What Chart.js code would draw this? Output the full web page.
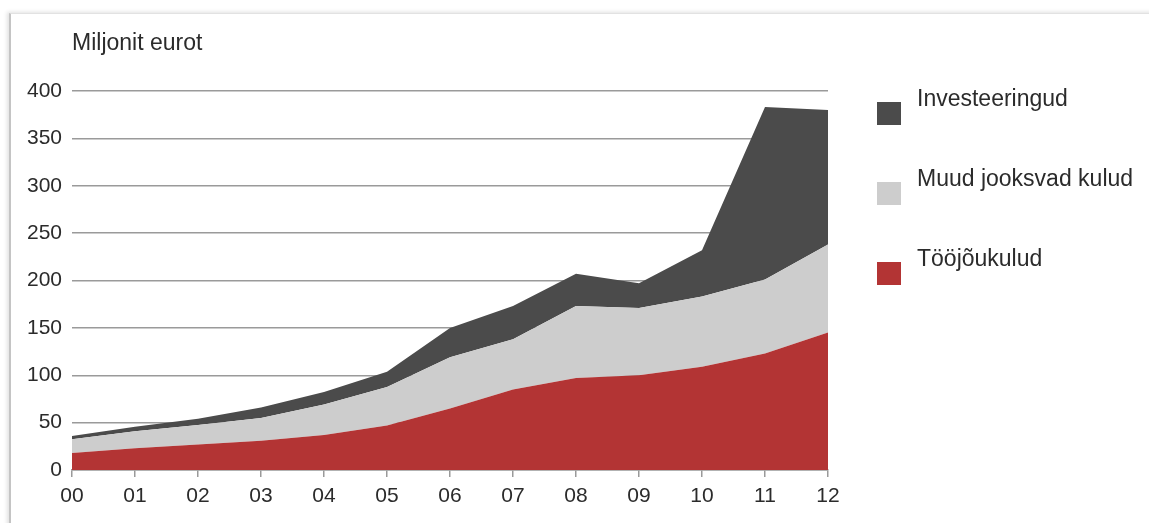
<!DOCTYPE html>
<html>
<head>
<meta charset="utf-8">
<title>Miljonit eurot</title>
<script src="https://cdn.jsdelivr.net/npm/chart.js@4.4.1/dist/chart.umd.min.js"></script>
<style>
body{margin:0;background:#fff;font-family:"Liberation Sans",Arial,sans-serif;}
#wrap{position:relative;width:1149px;height:523px;overflow:hidden;}
#frame{position:absolute;left:9px;top:13px;right:-20px;bottom:-20px;border-left:2px solid #c4c4c4;border-top:1px solid #e2e2e2;box-shadow:-2px -1px 4px rgba(0,0,0,0.12);}
#myChart{position:absolute;left:0;top:0;}
#the_head{position:absolute;left:72px;top:29px;font-size:23px;color:#2b2b2b;}
#legend{position:absolute;left:877px;top:0;}
.lg_item{position:absolute;left:0;width:270px;height:40px;}
.lg_box{position:absolute;left:0;width:24px;height:23px;}
.lg_text{position:absolute;left:40px;top:-17px;font-size:23px;color:#2b2b2b;white-space:nowrap;}
</style>
</head>
<body>
<div id="wrap">
    <div id="frame"></div>
    <canvas id="myChart" width="1149" height="523"></canvas>
    <div id="the_head">Miljonit eurot</div>
    <div id="legend"></div>
</div>
<script>
var years=['00','01','02','03','04','05','06','07','08','09','10','11','12'];
var tooJoukulud=[18,23,27,31,37,47,65,85,97,100,109,123,145];
var muudKulud=[14.5,18,20.5,24,32,40.5,54,53,76,71,74,78,93];
var investeeringud=[3.5,4.7,6.5,11,13.4,16.2,31,35,34,26,49,182,142];

var seriesNames=['Tööjõukulud','Muud jooksvad kulud','Investeeringud'];
var seriesColors=['#b33434','#cdcdcd','#4b4b4b'];

function drawChart(){
    var ctx=document.getElementById('myChart').getContext('2d');
    var allData=[tooJoukulud,muudKulud,investeeringud];
    var sets=[];
    for(var i=0;i<allData.length;i++){
        sets.push({
            label:seriesNames[i],
            data:allData[i],
            backgroundColor:seriesColors[i],
            borderColor:seriesColors[i],
            borderWidth:0,
            pointRadius:0,
            tension:0,
            fill:(i==0?'origin':'-1')
        });
    }

    new Chart(ctx,{
        type:'line',
        data:{labels:years,datasets:sets},
        options:{
            responsive:false,
            animation:false,
            layout:{padding:{left:0,right:321,top:91,bottom:0}},
            plugins:{legend:{display:false},tooltip:{enabled:false}},
            scales:{
                x:{
                    offset:false,
                    grid:{drawOnChartArea:false,drawTicks:true,tickLength:7,color:'#9a9a9a',lineWidth:1.5},
                    border:{display:true,color:'#9a9a9a',width:1.5},
                    ticks:{color:'#2b2b2b',font:{family:'Liberation Sans',size:21},padding:7,maxRotation:0,autoSkip:false},
                    afterFit:function(s){s.height=53;}
                },
                y:{
                    stacked:true,
                    min:0,max:400,
                    grid:{drawTicks:false,color:'#9a9a9a',lineWidth:1.5},
                    border:{display:false},
                    ticks:{stepSize:50,color:'#2b2b2b',font:{family:'Liberation Sans',size:21},padding:10},
                    afterFit:function(s){s.width=72;}
                }
            }
        }
    });

    // legend, top item = last series
    var lg=document.getElementById('legend');
    for(var j=0;j<seriesNames.length;j++){
        var k=seriesNames.length-1-j;
        var item=document.createElement('div');
        item.className='lg_item';
        item.style.top=(102+j*80)+'px';
        item.innerHTML='<div class="lg_box" style="background:'+seriesColors[k]+'"></div><div class="lg_text">'+seriesNames[k]+'</div>';
        lg.appendChild(item);
    }
}
drawChart();
</script>
</body>
</html>
